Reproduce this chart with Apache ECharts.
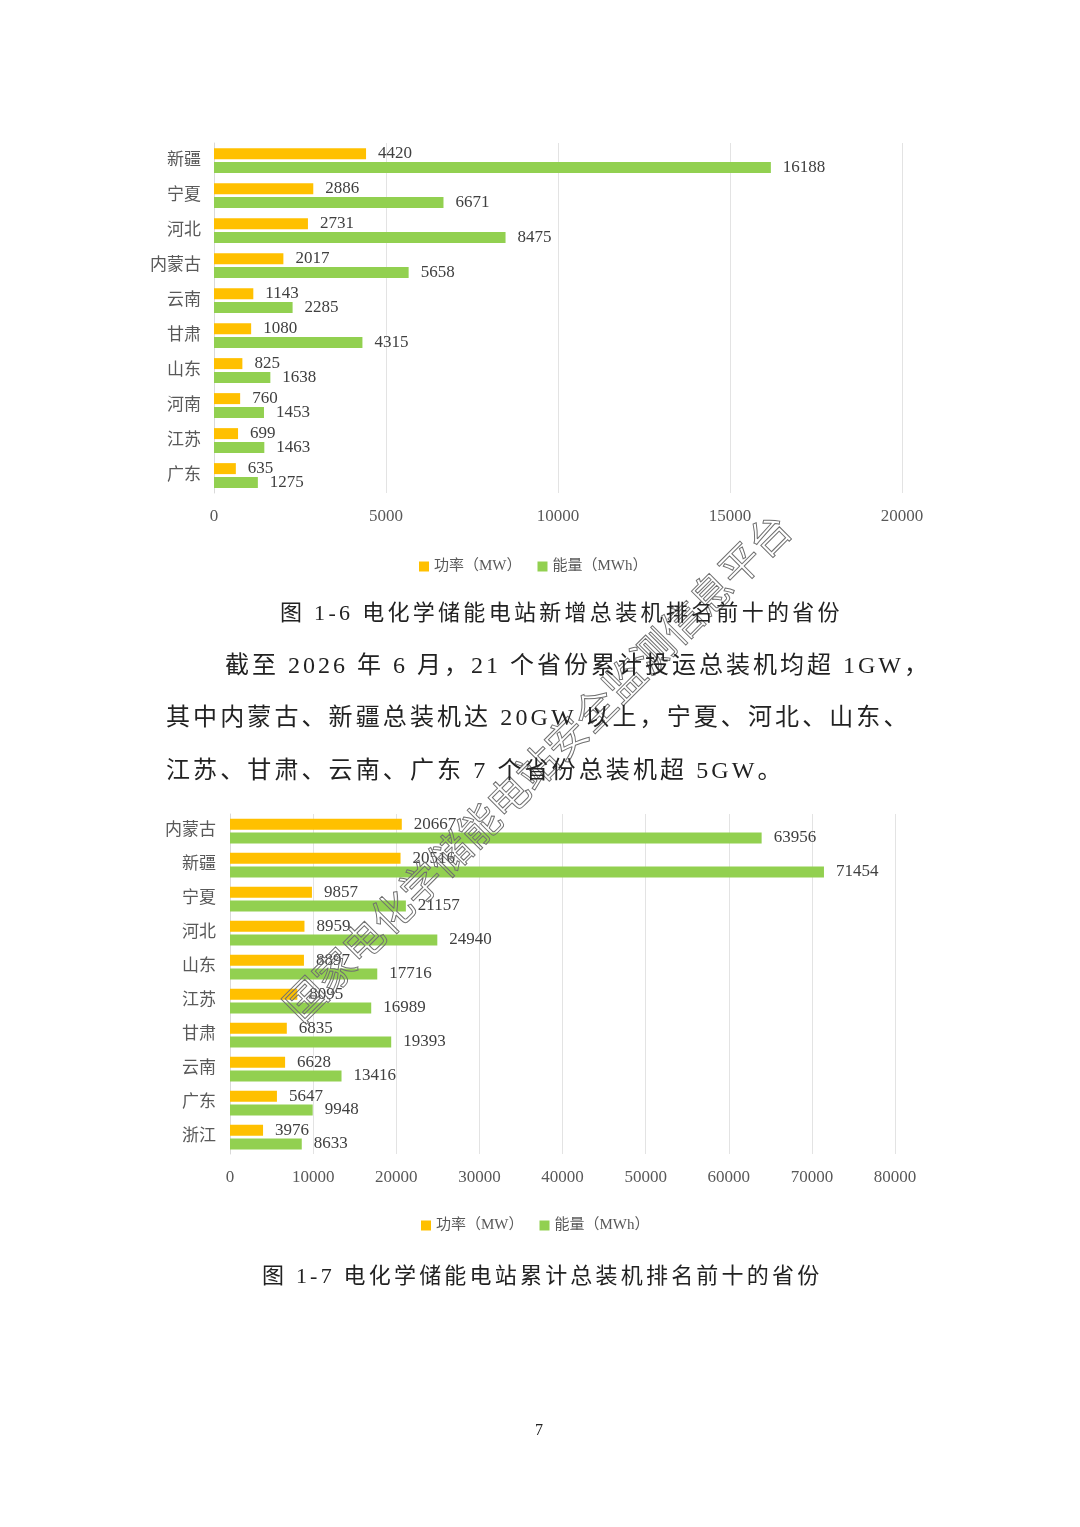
<!DOCTYPE html>
<html><head><meta charset="utf-8">
<script src="https://cdn.jsdelivr.net/npm/echarts@6/dist/echarts.min.js"></script>
<style>
html,body{margin:0;padding:0;background:#fff;}
#wrap{position:relative;width:1080px;height:1527px;}
#chart{position:absolute;left:0;top:0;width:1080px;height:1527px;}
.t{position:absolute;white-space:nowrap;font-family:"Liberation Serif","Noto Sans CJK SC",serif;color:#222;}
</style></head>
<body>
<div id="wrap">
<div id="chart"></div>
<div class="t" style="left:280px;top:598px;font-size:22px;letter-spacing:3.3px;line-height:30px;">图 1-6 电化学储能电站新增总装机排名前十的省份</div>
<div class="t" style="left:225px;top:648px;font-size:24px;letter-spacing:3px;line-height:34px;">截至 2026 年 6 月，21 个省份累计投运总装机均超 1GW，</div>
<div class="t" style="left:166px;top:700px;font-size:24px;letter-spacing:3.1px;line-height:34px;">其中内蒙古、新疆总装机达 20GW 以上，宁夏、河北、山东、</div>
<div class="t" style="left:166px;top:753px;font-size:24px;letter-spacing:3.1px;line-height:34px;">江苏、甘肃、云南、广东 7 个省份总装机超 5GW。</div>
<div class="t" style="left:262px;top:1261px;font-size:22px;letter-spacing:3.2px;line-height:30px;">图 1-7 电化学储能电站累计总装机排名前十的省份</div>
<div class="t" style="left:535px;top:1420px;font-size:16px;line-height:20px;">7</div>
</div>
<script>
var cats1 = ['新疆','宁夏','河北','内蒙古','云南','甘肃','山东','河南','江苏','广东'];
var power1 = [4420,2886,2731,2017,1143,1080,825,760,699,635];
var energy1 = [16188,6671,8475,5658,2285,4315,1638,1453,1463,1275];
var ticks1 = {min:0, max:20000, interval:5000};

var cats2 = ['内蒙古','新疆','宁夏','河北','山东','江苏','甘肃','云南','广东','浙江'];
var power2 = [20667,20516,9857,8959,8897,8095,6835,6628,5647,3976];
var energy2 = [63956,71454,21157,24940,17716,16989,19393,13416,9948,8633];
var ticks2 = {min:0, max:80000, interval:10000};

var seriesNames = ['功率（MW）','能量（MWh）'];
var watermark = '国家电化学储能电站安全监测信息平台';

var FONT = "'Liberation Serif','Noto Sans CJK SC',serif";
var ORANGE = '#FFC000', GREEN = '#92D050';

function xAxis(idx, t){
  return {gridIndex:idx, type:'value', min:t.min, max:t.max, interval:t.interval,
    axisLine:{show:false}, axisTick:{show:false},
    splitLine:{lineStyle:{color:'#e3e3e3',width:1}},
    axisLabel:{color:'#595959', fontSize:17, fontFamily:FONT, margin:15,
      formatter:function(v){return String(v);}}};
}
function yAxis(idx, cats, margin){
  return {gridIndex:idx, type:'category', data:cats, inverse:true,
    axisLine:{show:true, lineStyle:{color:'#d9d9d9'}}, axisTick:{show:false},
    axisLabel:{color:'#595959', fontSize:17, fontFamily:FONT, margin:margin}};
}
function bar(name, idx, data, color){
  return {name:name, type:'bar', xAxisIndex:idx, yAxisIndex:idx, data:data,
    barWidth:11, barGap:'25%', barCategoryGap:'20%',
    itemStyle:{color:color},
    label:{show:true, position:'right', distance:12, color:'#404040', fontSize:17, fontFamily:FONT},
    animation:false};
}

var chart = echarts.init(document.getElementById('chart'), null, {renderer:'canvas'});
chart.setOption({
  animation:false,
  grid:[
    {left:214, width:688, top:143, height:350},
    {left:230, width:665, top:814, height:340}
  ],
  legend:[
    {data:seriesNames, left:414, top:554, itemWidth:10, itemHeight:10, itemGap:16, icon:'rect',
      textStyle:{color:'#595959', fontSize:15, fontFamily:FONT}},
    {data:seriesNames, left:416, top:1213, itemWidth:10, itemHeight:10, itemGap:16, icon:'rect',
      textStyle:{color:'#595959', fontSize:15, fontFamily:FONT}}
  ],
  xAxis:[xAxis(0, ticks1), xAxis(1, ticks2)],
  yAxis:[yAxis(0, cats1, 13), yAxis(1, cats2, 14)],
  series:[
    bar(seriesNames[0], 0, power1, ORANGE),
    bar(seriesNames[1], 0, energy1, GREEN),
    bar(seriesNames[0], 1, power2, ORANGE),
    bar(seriesNames[1], 1, energy2, GREEN)
  ],
  graphic:[
    {type:'text', x:537, y:767, rotation:Math.PI/4, z:100,
      style:{text:watermark, align:'center', verticalAlign:'middle',
        font:"41px 'Noto Sans CJK SC'", fill:'rgba(0,0,0,0)', stroke:'#707070', lineWidth:1}}
  ]
});
</script>
</body></html>
